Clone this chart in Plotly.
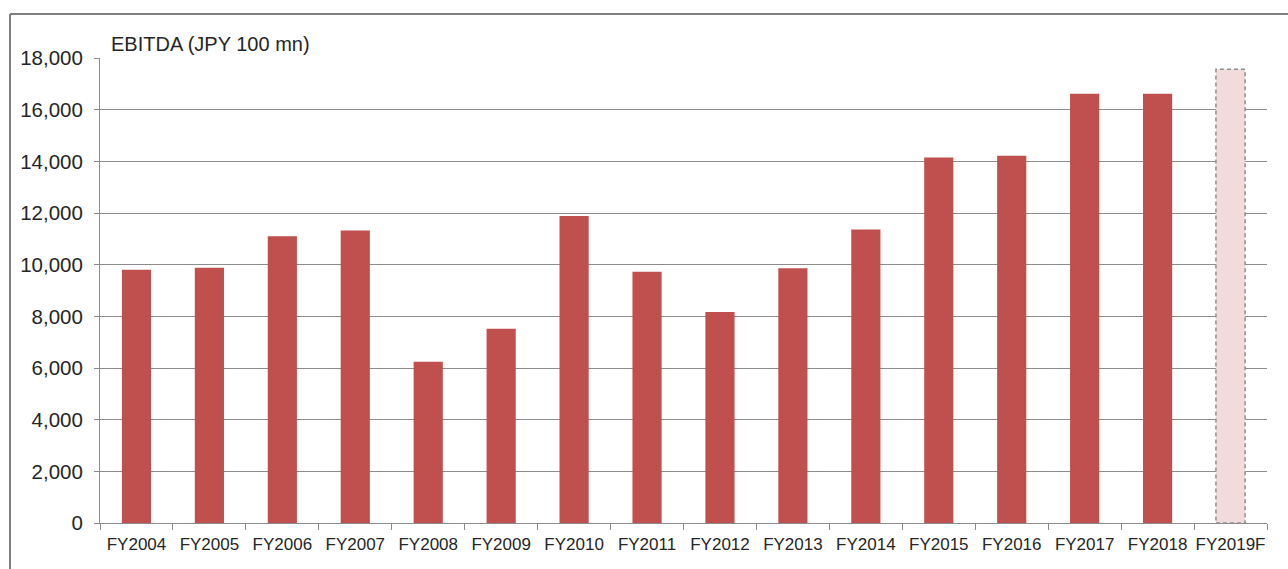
import plotly.graph_objects as go

categories = ["FY2004", "FY2005", "FY2006", "FY2007", "FY2008", "FY2009", "FY2010", "FY2011",
              "FY2012", "FY2013", "FY2014", "FY2015", "FY2016", "FY2017", "FY2018", "FY2019F"]
ebitda = [9800, 9880, 11100, 11320, 6240, 7520, 11880, 9730,
          8170, 9860, 11360, 14150, 14220, 16620, 16620, 17560]
is_forecast = [False] * 15 + [True]
y_ticks = [0, 2000, 4000, 6000, 8000, 10000, 12000, 14000, 16000, 18000]

actual_x = [c for c, f in zip(categories, is_forecast) if not f]
actual_y = [v for v, f in zip(ebitda, is_forecast) if not f]
fc_x = [c for c, f in zip(categories, is_forecast) if f]
fc_y = [v for v, f in zip(ebitda, is_forecast) if f]

L, R, T, B = 100, 21, 58, 46
W, H = 1288, 569
pw, ph = W - L - R, H - T - B

fig = go.Figure()
fig.add_trace(go.Bar(x=actual_x, y=actual_y, marker=dict(color="#C0504D", line=dict(width=0)),
                     width=0.4, hoverinfo="x+y"))
fig.add_trace(go.Bar(x=fc_x, y=fc_y, marker=dict(color="#F2DCDB", line=dict(width=0)),
                     width=0.4, hoverinfo="x+y"))

# dashed outline for the forecast bar (bar marker lines cannot be dashed)
for c, v in zip(fc_x, fc_y):
    idx = categories.index(c)
    fig.add_shape(type="rect", xref="x", yref="y", x0=idx - 0.2, x1=idx + 0.2, y0=0, y1=v,
                  line=dict(color="#8F8F8F", width=1.5, dash="4px,3px"), layer="above")

def px_to_paper_x(px):
    return (px - L) / pw

def px_to_paper_y(py):
    return (H - B - py) / ph

# outer frame (top and left lines)
fig.add_shape(type="line", xref="paper", yref="paper",
              x0=px_to_paper_x(10), x1=px_to_paper_x(1290), y0=px_to_paper_y(14), y1=px_to_paper_y(14),
              line=dict(color="#7F7F7F", width=2))
fig.add_shape(type="line", xref="paper", yref="paper",
              x0=px_to_paper_x(10), x1=px_to_paper_x(10), y0=px_to_paper_y(14), y1=px_to_paper_y(572),
              line=dict(color="#7F7F7F", width=2))

fig.add_annotation(text="EBITDA (JPY 100 mn)", xref="paper", yref="paper",
                   x=px_to_paper_x(109), y=px_to_paper_y(44), xanchor="left", yanchor="middle",
                   showarrow=False, font=dict(family="Arial, Liberation Sans", size=20, color="#262626"))

fig.update_layout(
    width=W, height=H, margin=dict(l=L, r=R, t=T, b=B),
    paper_bgcolor="white", plot_bgcolor="white", showlegend=False, barmode="overlay",
    font=dict(family="Arial, Liberation Sans", size=17, color="#262626"),
)
fig.update_xaxes(type="category", categoryorder="array", categoryarray=categories,
                 range=[-0.5, len(categories) - 0.5],
                 showline=True, linecolor="#8C8C8C", linewidth=1,
                 ticks="outside", tickson="boundaries", ticklen=6, tickcolor="#8C8C8C",
                 showgrid=False, tickangle=0, tickfont=dict(size=17), ticklabelstandoff=6)
fig.update_yaxes(range=[0, 18000], tickvals=y_ticks, tickformat=",",
                 showline=True, linecolor="#8C8C8C", linewidth=1,
                 ticks="outside", ticklen=5, tickcolor="#8C8C8C",
                 showgrid=True, gridcolor="#8C8C8C", gridwidth=1, zeroline=False,
                 tickfont=dict(size=20.5), ticklabelstandoff=7)

fig.write_html("out.html")
